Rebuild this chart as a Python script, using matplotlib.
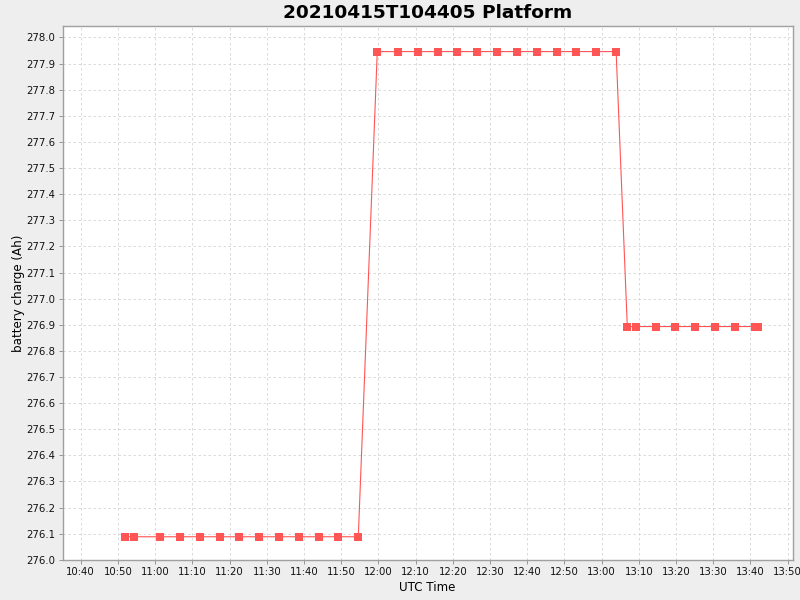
import matplotlib
matplotlib.use("Agg")
import matplotlib.pyplot as plt
import matplotlib.dates as mdates
from matplotlib.ticker import MultipleLocator, FormatStrFormatter
import datetime as dt

times = [
    "10:52:00", "10:54:24", "11:01:24", "11:06:48", "11:12:04", "11:17:22", "11:22:36",
    "11:28:00", "11:33:24", "11:38:42", "11:44:00", "11:49:12", "11:54:36",
    "11:59:42", "12:05:21", "12:10:42", "12:16:06", "12:21:12", "12:26:36", "12:31:58",
    "12:37:18", "12:42:42", "12:48:06", "12:53:12", "12:58:36", "13:03:54",
    "13:06:54", "13:09:18", "13:14:42", "13:19:48", "13:25:12", "13:30:30", "13:35:54",
    "13:41:12", "13:42:00",
]
charge = [276.088] * 13 + [277.946] * 13 + [276.893] * 9

title = "20210415T104405 Platform"
xlabel = "UTC Time"
ylabel = "battery charge (Ah)"

day = dt.date(2021, 4, 15)
x = [dt.datetime.combine(day, dt.datetime.strptime(t, "%H:%M:%S").time()) for t in times]

fig = plt.figure(figsize=(8, 6), dpi=100, facecolor="#EEEEEE")
ax = fig.add_axes([62.5 / 800, 1 - 560 / 600, 730 / 800, 534 / 600])
ax.set_facecolor("white")

ax.plot(x, charge, color="#FF5555", linewidth=0.8, marker="s", markersize=5.8,
        markeredgewidth=0, zorder=3)

ax.set_xlim(dt.datetime(2021, 4, 15, 10, 35, 6), dt.datetime(2021, 4, 15, 13, 51, 18))
ax.set_ylim(275.999, 278.044)

ax.xaxis.set_major_locator(mdates.MinuteLocator(byminute=range(0, 60, 10)))
ax.xaxis.set_major_formatter(mdates.DateFormatter("%H:%M"))
ax.yaxis.set_major_locator(MultipleLocator(0.1))
ax.yaxis.set_major_formatter(FormatStrFormatter("%.1f"))

ax.grid(True, color="#D4D4D4", linestyle=(0, (3, 3)), linewidth=0.6)
ax.set_axisbelow(True)
for s in ax.spines.values():
    s.set_color("#A0A0A0")
    s.set_linewidth(1.0)
ax.tick_params(axis="both", labelsize=7.3, color="#888888", length=3, width=0.6, pad=2,
               labelcolor="#111111")

ax.set_title(title, fontsize=13.3, fontweight="bold", pad=6)
ax.set_xlabel(xlabel, fontsize=8.6, labelpad=3)
ax.set_ylabel(ylabel, fontsize=8.6, labelpad=1)

fig.savefig("out.png", dpi=100, facecolor=fig.get_facecolor())
